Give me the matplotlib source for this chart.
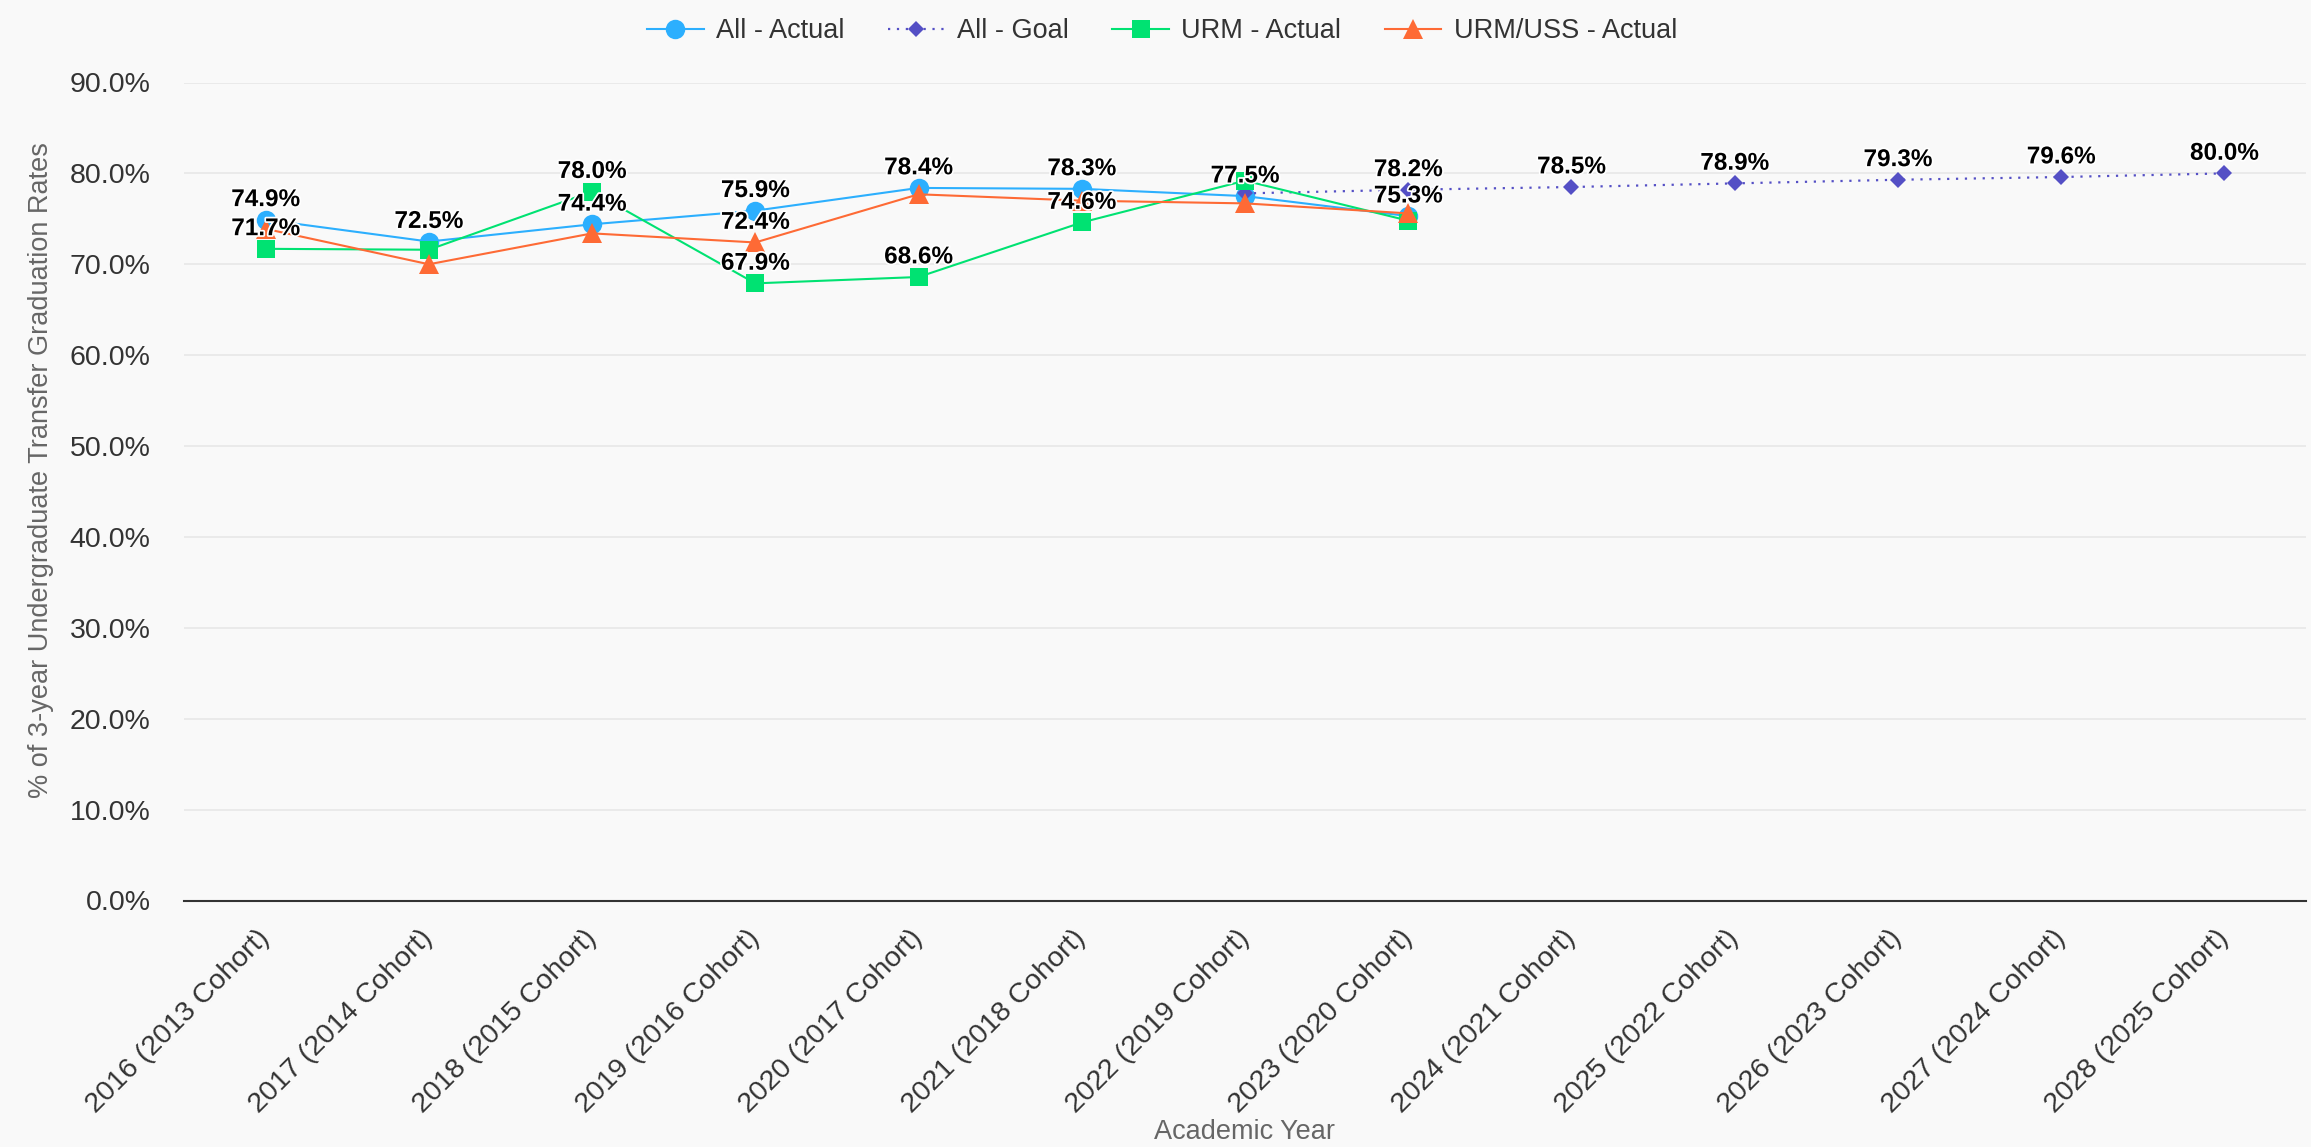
import numpy as np
import matplotlib
matplotlib.use("Agg")
import matplotlib.pyplot as plt
from matplotlib.lines import Line2D
import matplotlib.patheffects as pe

plt.rcParams["font.family"] = ["Liberation Sans", "DejaVu Sans"]

nan = np.nan
categories = ["2016 (2013 Cohort)", "2017 (2014 Cohort)", "2018 (2015 Cohort)",
              "2019 (2016 Cohort)", "2020 (2017 Cohort)", "2021 (2018 Cohort)",
              "2022 (2019 Cohort)", "2023 (2020 Cohort)", "2024 (2021 Cohort)",
              "2025 (2022 Cohort)", "2026 (2023 Cohort)", "2027 (2024 Cohort)",
              "2028 (2025 Cohort)"]
all_actual = [74.9, 72.5, 74.4, 75.9, 78.4, 78.3, 77.5, 75.3, nan, nan, nan, nan, nan]
all_goal = [nan, nan, nan, nan, nan, nan, 77.8, 78.2, 78.5, 78.9, 79.3, 79.6, 80.0]
urm_actual = [71.7, 71.6, 78.0, 67.9, 68.6, 74.6, 79.2, 74.8, nan, nan, nan, nan, nan]
urm_uss_actual = [73.9, 70.0, 73.4, 72.4, 77.7, 77.0, 76.7, 75.6, nan, nan, nan, nan, nan]

# which data labels remain visible (others hidden due to overlap)
all_actual_show = [True, True, True, True, True, True, True, True, False, False, False, False, False]
all_goal_show = [False, False, False, False, False, False, False, True, True, True, True, True, True]
urm_show = [True, False, True, True, True, True, False, False, False, False, False, False, False]
urm_uss_show = [False, False, False, True, False, False, False, False, False, False, False, False, False]

series_names = ["All - Actual", "All - Goal", "URM - Actual", "URM/USS - Actual"]
y_ticks = [0, 10, 20, 30, 40, 50, 60, 70, 80, 90]

BG = "#f9f9f9"
W, H = 2311, 1147
fig = plt.figure(figsize=(W / 100, H / 100), dpi=100)
fig.patch.set_facecolor(BG)
left, right, top, bottom = 184, 2306, 82.5, 900.5
ax = fig.add_axes([left / W, 1 - bottom / H, (right - left) / W, (bottom - top) / H])
ax.set_facecolor(BG)

x = np.arange(len(categories))
styles = [
    dict(color="#2caffe", marker="o", ms=14, ls="-", lw=1.5),
    dict(color="#544fc5", marker="D", ms=8.5, ls=(0, (1, 3)), lw=1.6),
    dict(color="#00e272", marker="s", ms=13.5, ls="-", lw=1.5),
    dict(color="#fe6a35", marker="^", ms=14.5, ls="-", lw=1.5),
]
data = [all_actual, all_goal, urm_actual, urm_uss_actual]
shows = [all_actual_show, all_goal_show, urm_show, urm_uss_show]
handles = []
for i, (vals, st, name) in enumerate(zip(data, styles, series_names)):
    ax.plot(x, vals, color=st["color"], linestyle=st["ls"], linewidth=st["lw"],
            marker=st["marker"], markersize=st["ms"], markeredgewidth=0,
            zorder=3 + i, clip_on=False)
    handles.append(Line2D([0], [0], color=st["color"], linestyle=st["ls"], linewidth=st["lw"],
                          marker=st["marker"], markersize=st["ms"], markeredgewidth=0, label=name))

for vals, show in zip(data, shows):
    for xi, v, s in zip(x, vals, show):
        if s and not np.isnan(v):
            ax.annotate(f"{v:.1f}%", (xi, v), xytext=(0, 14.5), textcoords="offset points",
                        ha="center", va="center", fontsize=17.5, fontweight="bold", color="black",
                        path_effects=[pe.withStroke(linewidth=2.5, foreground="white")],
                        zorder=20)

ax.set_xlim(-0.5, len(categories) - 0.5)
ax.set_ylim(0, 90)
ax.set_yticks(y_ticks)
ax.set_yticklabels([f"{v:.1f}%" for v in y_ticks])
ax.set_xticks(x)
ax.set_xticklabels(categories, rotation=45, ha="right", va="center", rotation_mode="anchor")
ax.tick_params(axis="y", length=0, pad=24, labelsize=20.5, labelcolor="#333333")
ax.tick_params(axis="x", length=0, pad=24, labelsize=20.5, labelcolor="#333333")
ax.grid(axis="y", color="#e6e6e6", linewidth=1.1, zorder=0)
ax.set_axisbelow(True)
for sp in ["left", "right", "top"]:
    ax.spines[sp].set_visible(False)
ax.spines["bottom"].set_color("#333333")
ax.spines["bottom"].set_linewidth(1.5)
ax.spines["bottom"].set_zorder(2)

fig.text(41 / W, 1 - 470 / H, "% of 3-year Undergraduate Transfer Graduation Rates",
         rotation=90, ha="center", va="center", fontsize=19.5, color="#666666")
fig.text((left + right) / 2 / W, 1 - 1132 / H, "Academic Year",
         ha="center", va="center", fontsize=19.5, color="#666666")

leg = fig.legend(handles=handles, loc="center", bbox_to_anchor=(1162 / W, 1 - 31 / H),
                 ncol=4, frameon=False, fontsize=19.5, handlelength=2.1,
                 handletextpad=0.45, columnspacing=1.6, borderaxespad=0)
for t in leg.get_texts():
    t.set_color("#333333")

fig.savefig("out.png", dpi=100, facecolor=BG)
